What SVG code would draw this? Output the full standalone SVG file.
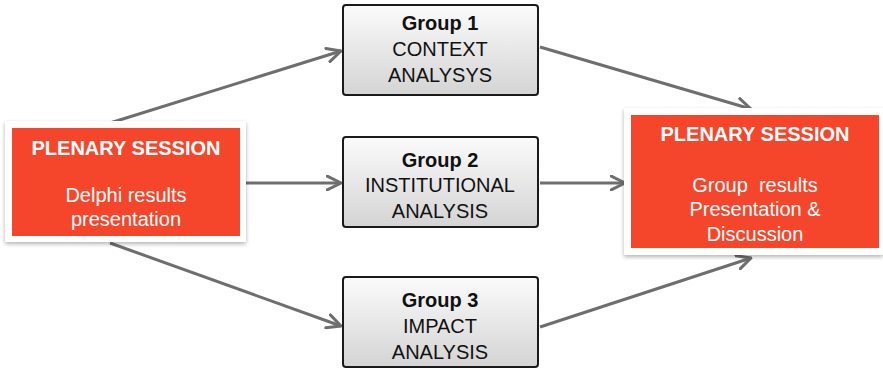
<svg xmlns="http://www.w3.org/2000/svg" width="883" height="371" viewBox="0 0 883 371">
<style>
.red{fill:#f5462b}
.frame{fill:#ffffff;filter:url(#sh)}
.grp{fill:url(#g);stroke:#1a1a1a;stroke-width:2}
.t{font-family:"Liberation Sans",Arial,sans-serif;font-size:20px;text-anchor:middle}
.w{fill:#ffffff}
.k{fill:#111111}
.b{font-weight:bold}
.c{fill:none;stroke:#6e6e6e;stroke-width:3;marker-end:url(#ah)}
</style>
<defs>
<linearGradient id="g" x1="0" y1="0" x2="0" y2="1">
<stop offset="0" stop-color="#fbfbfb"/>
<stop offset="1" stop-color="#d4d4d4"/>
</linearGradient>
<filter id="sh" x="-10%" y="-10%" width="120%" height="125%">
<feGaussianBlur in="SourceAlpha" stdDeviation="2"/>
<feOffset dy="2"/>
<feComponentTransfer><feFuncA type="linear" slope="0.3"/></feComponentTransfer>
<feMerge><feMergeNode/><feMergeNode in="SourceGraphic"/></feMerge>
</filter>
<marker id="ah" viewBox="0 0 12 12" refX="11" refY="6" markerWidth="5.5" markerHeight="5.5" orient="auto" markerUnits="strokeWidth">
<path d="M1,1 L11,6 L1,11" fill="none" stroke="#6e6e6e" stroke-width="2.2" stroke-linecap="round" stroke-linejoin="round"/>
</marker>
</defs>
<rect width="883" height="371" fill="#ffffff"/>
<g id="connectors">
<line class="c" x1="110" y1="123" x2="341" y2="51"/>
<line class="c" x1="243" y1="183" x2="341" y2="183"/>
<line class="c" x1="110" y1="243" x2="341" y2="326"/>
<line class="c" x1="540" y1="47" x2="751" y2="109"/>
<line class="c" x1="540" y1="183" x2="625" y2="183"/>
<line class="c" x1="540" y1="327" x2="751" y2="258"/>
</g>
<g id="plenary1">
<rect class="frame" x="5" y="121" width="241" height="121"/>
<rect class="red" x="12" y="128" width="228" height="108"/>
<text class="t w b" x="126" y="155">PLENARY SESSION</text>
<text class="t w" x="126" y="202">Delphi results</text>
<text class="t w" x="126" y="226">presentation</text>
</g>
<g id="group1">
<rect class="grp" x="343" y="5" width="195" height="90" rx="3"/>
<text class="t k b" x="440" y="30">Group 1</text>
<text class="t k" x="440" y="56">CONTEXT</text>
<text class="t k" x="440" y="82">ANALYSYS</text>
</g>
<g id="group2">
<rect class="grp" x="343" y="137" width="195" height="90" rx="3"/>
<text class="t k b" x="440" y="167">Group 2</text>
<text class="t k" x="440" y="192">INSTITUTIONAL</text>
<text class="t k" x="440" y="218">ANALYSIS</text>
</g>
<g id="group3">
<rect class="grp" x="343" y="277" width="195" height="90" rx="3"/>
<text class="t k b" x="440" y="307">Group 3</text>
<text class="t k" x="440" y="333">IMPACT</text>
<text class="t k" x="440" y="359">ANALYSIS</text>
</g>
<g id="plenary2">
<rect class="frame" x="624" y="108" width="259" height="147"/>
<rect class="red" x="631" y="115" width="248" height="133"/>
<text class="t w b" x="755" y="141">PLENARY SESSION</text>
<text class="t w" x="755" y="192" xml:space="preserve">Group  results</text>
<text class="t w" x="755" y="216">Presentation &amp;</text>
<text class="t w" x="755" y="241">Discussion</text>
</g>
</svg>
